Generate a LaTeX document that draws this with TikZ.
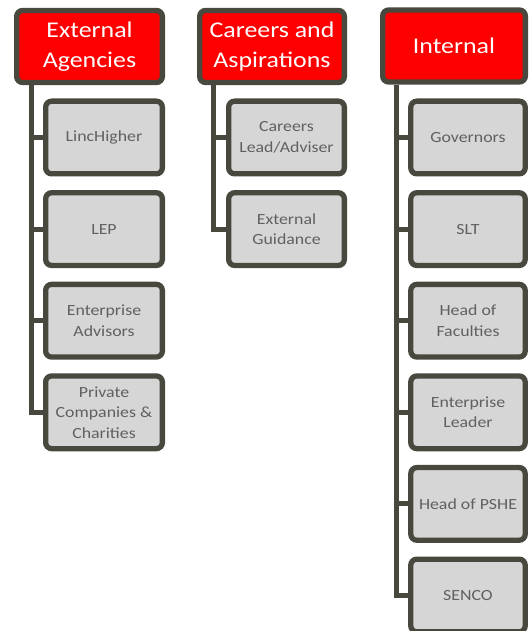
\documentclass[tikz,border=0pt]{standalone}
\usepackage{fontspec}
\setmainfont{Carlito}[FakeStretch=1.15]
\definecolor{edge}{RGB}{72,72,62}
\definecolor{headfill}{RGB}{255,0,0}
\definecolor{itemfill}{RGB}{214,214,214}
\definecolor{itemtext}{RGB}{96,96,96}
\tikzset{
  headbox/.style={draw=edge, line width=5.3pt, fill=headfill, rounded corners=6pt,
    minimum height=72pt, text=white, align=center, inner sep=0pt,
    font=\fontsize{22.5}{30}\selectfont},
  itembox/.style={draw=edge, line width=5.3pt, fill=itemfill, rounded corners=6pt,
    minimum height=72.7pt, text=itemtext, align=center, inner sep=0pt,
    font=\fontsize{15.5}{20.5}\selectfont},
  link/.style={draw=edge, line width=5pt}
}
\begin{document}
\begin{tikzpicture}[x=1pt,y=-1pt]
\useasboundingbox (0,0) rectangle (530,631);

% column headers
\node[headbox, minimum width=145.7pt] (h1) at (89.5,46.5) {External\\Agencies};
\node[headbox, minimum width=144.7pt] (h2) at (272,46.5) {Careers and\\Aspirations};
\node[headbox, minimum width=142.7pt] (h3) at (454,46) {Internal};

% trunk tops
\coordinate (t1) at ([xshift=17pt]h1.south west);
\coordinate (t2) at ([xshift=16pt]h2.south west);
\coordinate (t3) at ([xshift=16.7pt]h3.south west);

% external agencies
\begin{scope}[every node/.style={itembox, minimum width=116.7pt}]
\node (a1) at (104,137.5) {LincHigher};
\node (a2) at (104,229.1) {LEP};
\node (a3) at (104,320.7) {Enterprise\\Advisors};
\node (a4) at (104,412.3) {Private\\Companies \&\\Charities};
\end{scope}

% careers and aspirations
\begin{scope}[every node/.style={itembox, minimum width=115.7pt}]
\node (b1) at (286.5,137.5) {Careers\\Lead/Adviser};
\node (b2) at (286.5,229.1) {External\\Guidance};
\end{scope}

% internal
\begin{scope}[every node/.style={itembox, minimum width=114.4pt}]
\node (c1) at (468,137.5) {Governors};
\node (c2) at (468,229.1) {SLT};
\node (c3) at (468,320.7) {Head of\\Faculties};
\node (c4) at (468,412.3) {Enterprise\\Leader};
\node (c5) at (468,503.9) {Head of PSHE};
\node (c6) at (468,595.5) {SENCO};
\end{scope}

% connectors
\draw[link] (t1) |- (a4.west);
\foreach \n in {a1,a2,a3} \draw[link] (\n.west) -- (\n.west -| t1);
\draw[link] (t2) |- (b2.west);
\draw[link] (b1.west) -- (b1.west -| t2);
\draw[link] (t3) |- (c6.west);
\foreach \n in {c1,c2,c3,c4,c5} \draw[link] (\n.west) -- (\n.west -| t3);
\end{tikzpicture}
\end{document}
